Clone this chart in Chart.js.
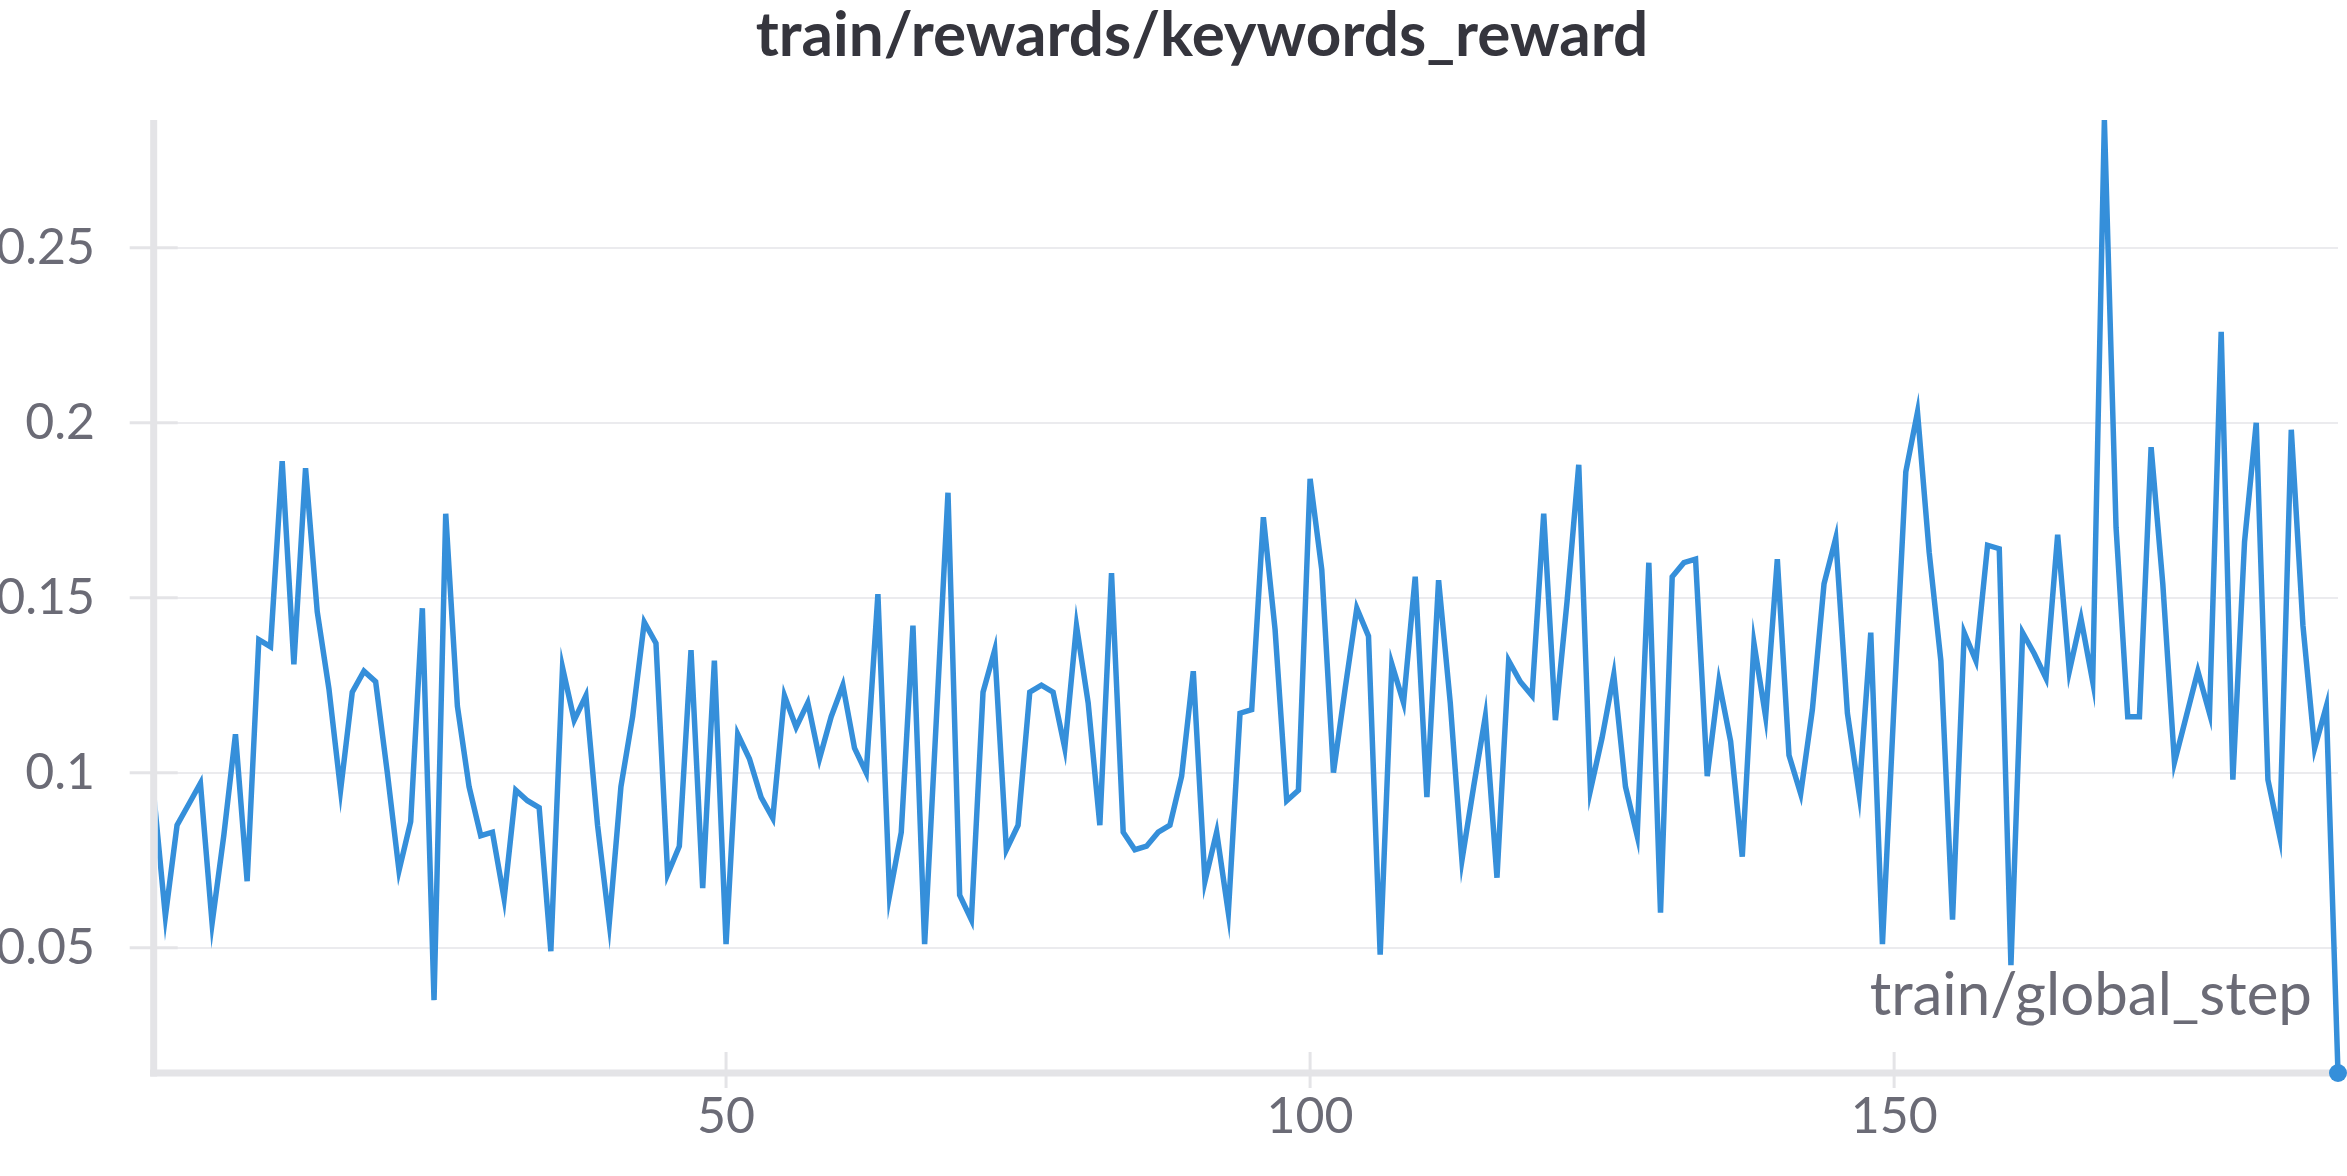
<!DOCTYPE html>
<html>
<head>
<meta charset="utf-8">
<title>train/rewards/keywords_reward</title>
<script src="https://cdn.jsdelivr.net/npm/chart.js@4.4.1/dist/chart.umd.min.js"></script>
<style>
  html, body { margin: 0; padding: 0; background: #fff; }
  #wrap { position: relative; width: 2347px; height: 1176px; }
</style>
</head>
<body>
<div id="wrap"><canvas id="myChart"></canvas></div>
<script>
// setup
const steps = Array.from({ length: 188 }, (_, i) => i + 1);

const keywordsReward = [
  0.094, 0.059, 0.085, 0.091, 0.097, 0.057, 0.082, 0.111, 0.069, 0.138,
  0.136, 0.189, 0.131, 0.187, 0.146, 0.124, 0.095, 0.123, 0.129, 0.126,
  0.100, 0.072, 0.086, 0.147, 0.035, 0.174, 0.119, 0.096, 0.082, 0.083,
  0.064, 0.095, 0.092, 0.090, 0.049, 0.130, 0.115, 0.122, 0.085, 0.057,
  0.096, 0.116, 0.143, 0.137, 0.071, 0.079, 0.135, 0.067, 0.132, 0.051,
  0.111, 0.104, 0.093, 0.087, 0.122, 0.113, 0.120, 0.104, 0.116, 0.125,
  0.107, 0.100, 0.151, 0.065, 0.083, 0.142, 0.051, 0.115, 0.180, 0.065,
  0.058, 0.123, 0.135, 0.078, 0.085, 0.123, 0.125, 0.123, 0.107, 0.142,
  0.120, 0.085, 0.157, 0.083, 0.078, 0.079, 0.083, 0.085, 0.099, 0.129,
  0.069, 0.083, 0.060, 0.117, 0.118, 0.173, 0.141, 0.092, 0.095, 0.184,
  0.158, 0.100, 0.124, 0.147, 0.139, 0.048, 0.131, 0.120, 0.156, 0.093,
  0.155, 0.120, 0.075, 0.096, 0.116, 0.070, 0.132, 0.126, 0.122, 0.174,
  0.115, 0.149, 0.188, 0.095, 0.110, 0.128, 0.096, 0.082, 0.160, 0.060,
  0.156, 0.160, 0.161, 0.099, 0.126, 0.109, 0.076, 0.137, 0.116, 0.161,
  0.105, 0.094, 0.118, 0.154, 0.167, 0.117, 0.094, 0.140, 0.051, 0.120,
  0.186, 0.203, 0.163, 0.132, 0.058, 0.140, 0.132, 0.165, 0.164, 0.045,
  0.140, 0.134, 0.127, 0.168, 0.129, 0.144, 0.126, 0.2865, 0.170, 0.116,
  0.116, 0.193, 0.154, 0.103, 0.116, 0.129, 0.117, 0.226, 0.098, 0.166,
  0.200, 0.098, 0.082, 0.198, 0.142, 0.107, 0.119, 0.0142,
];

const yTickValues = [0.05, 0.1, 0.15, 0.2, 0.25];
const xTickValues = [50, 100, 150];

const chartTitle = "train/rewards/keywords_reward";
const xAxisTitle = "train/global_step";

const FONT = "Lato, 'Noto Sans', sans-serif";
const LINE_BLUE = "#358fda";
const AXIS_GRAY = "#e4e4e7";
const GRID_GRAY = "#ebebee";
const LABEL_GRAY = "#6b6b76";

Chart.defaults.font.family = FONT;

// axis lines, crossing tick marks, in-plot x title and the panel title
const axisDecor = {
  id: "axisDecor",
  beforeDatasetsDraw(chart) {
    const { ctx, chartArea: a, scales } = chart;
    const seg = (x1, y1, x2, y2) => {
      ctx.beginPath();
      ctx.moveTo(x1, y1);
      ctx.lineTo(x2, y2);
      ctx.stroke();
    };
    ctx.save();
    ctx.strokeStyle = AXIS_GRAY;
    ctx.lineWidth = 3;
    scales.y.ticks.forEach((t) => {
      const py = scales.y.getPixelForValue(t.value);
      seg(a.left - 24, py, a.left + 24, py);
    });
    scales.x.ticks.forEach((t) => {
      const px = scales.x.getPixelForValue(t.value);
      seg(px, a.bottom - 21, px, a.bottom + 15);
    });
    ctx.lineWidth = 7;
    seg(a.left, a.top, a.left, a.bottom + 3.5);
    seg(a.left - 3.5, a.bottom, a.right + 5, a.bottom);

    ctx.fillStyle = LABEL_GRAY;
    ctx.font = "60px " + FONT;
    ctx.textAlign = "right";
    ctx.textBaseline = "alphabetic";
    ctx.fillText(xAxisTitle, a.right - 26, a.bottom - 58);

    // title is centred a little right of the canvas middle, as in the panel
    ctx.fillStyle = "#35353d";
    ctx.font = "bold 62px " + FONT;
    ctx.textAlign = "center";
    ctx.fillText(chartTitle, 1202, 56);
    ctx.restore();
  },
};

const data = {
  datasets: [
    {
      label: chartTitle,
      data: keywordsReward.map((v, i) => ({ x: steps[i], y: v })),
      borderColor: LINE_BLUE,
      backgroundColor: LINE_BLUE,
      borderWidth: 5.5,
      tension: 0,
      pointRadius: (c) => (c.dataIndex === keywordsReward.length - 1 ? 9 : 0),
      pointBorderWidth: 0,
      pointHoverRadius: 0,
      clip: { left: -4, top: 6, right: 12, bottom: 12 },
    },
  ],
};

// config
const config = {
  type: "line",
  data,
  plugins: [axisDecor],
  options: {
    responsive: true,
    maintainAspectRatio: false,
    animation: false,
    devicePixelRatio: 1,
    layout: { padding: { left: 0, right: 9, top: 120, bottom: 0 } },
    plugins: {
      legend: { display: false },
      tooltip: { enabled: false },
      title: { display: false },
    },
    scales: {
      x: {
        type: "linear",
        min: steps[0],
        max: steps[steps.length - 1],
        afterBuildTicks: (scale) => {
          scale.ticks = xTickValues.map((v) => ({ value: v }));
        },
        afterFit: (scale) => {
          scale.height = 103;
        },
        grid: { display: false, drawTicks: false },
        border: { display: false },
        ticks: {
          color: LABEL_GRAY,
          font: { size: 50 },
          padding: 14,
          maxRotation: 0,
        },
      },
      y: {
        min: Math.min(...keywordsReward),
        max: Math.max(...keywordsReward),
        afterBuildTicks: (scale) => {
          scale.ticks = yTickValues.map((v) => ({ value: v }));
        },
        afterFit: (scale) => {
          scale.width = 153.7;
        },
        grid: { color: GRID_GRAY, lineWidth: 2, drawTicks: false },
        border: { display: false },
        ticks: {
          color: LABEL_GRAY,
          font: { size: 50 },
          padding: 58.7,
          callback: (v) => String(+v.toFixed(2)),
        },
      },
    },
  },
};

// render init block
const myChart = new Chart(document.getElementById("myChart"), config);
</script>
</body>
</html>
